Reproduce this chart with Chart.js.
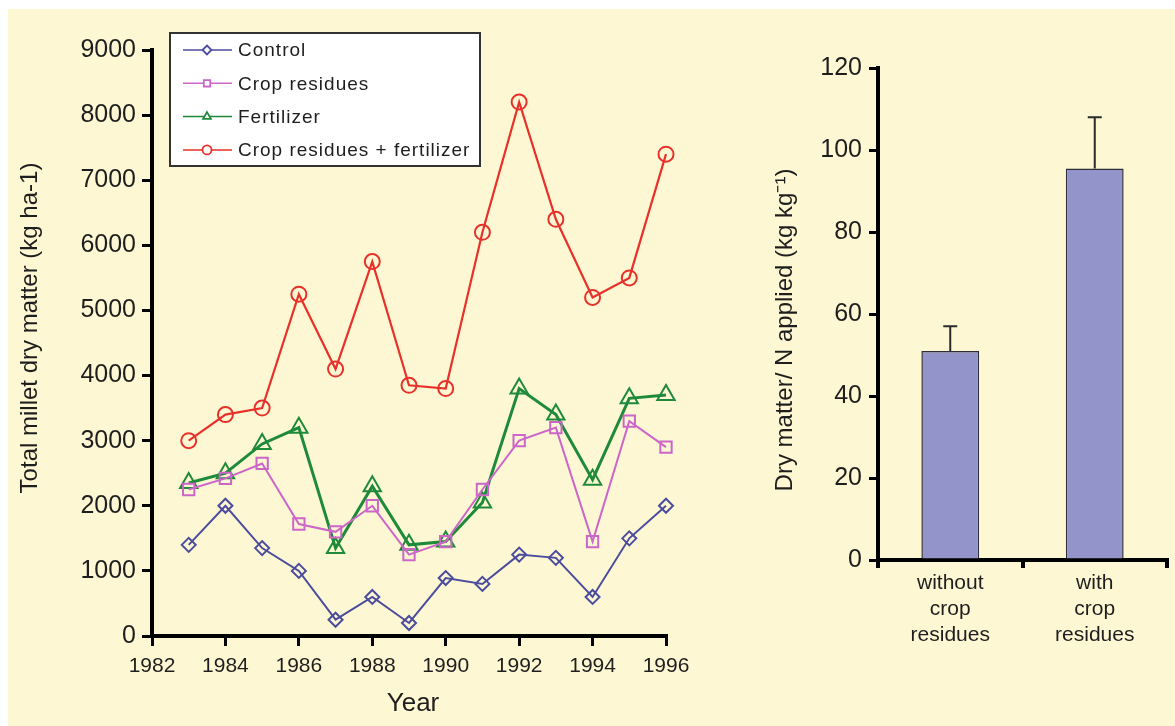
<!DOCTYPE html>
<html>
<head>
<meta charset="utf-8">
<script src="https://cdn.jsdelivr.net/npm/chart.js@4.4.1/dist/chart.umd.min.js"></script>
<style>
  html,body{margin:0;padding:0;background:#ffffff;width:1175px;height:726px;overflow:hidden;}
  #bg{position:absolute;left:8px;top:9px;width:1167px;height:717px;background:#FDF8D3;}
  canvas{position:absolute;top:0;}
  #c1{left:0;}
  #c2{left:720px;}
</style>
</head>
<body>
<div id="bg"></div>
<canvas id="c1" width="720" height="726"></canvas>
<canvas id="c2" width="455" height="726"></canvas>
<script>
// ---------- data ----------
const years = [1983,1984,1985,1986,1987,1988,1989,1990,1991,1992,1993,1994,1995,1996];
const control = [1400,2000,1350,1000,250,600,200,890,800,1250,1200,600,1500,2000];
const cropResidues = [2250,2420,2650,1720,1600,2000,1250,1450,2250,3000,3200,1450,3300,2900];
const fertilizer = [2350,2500,2950,3200,1350,2300,1400,1450,2050,3800,3400,2400,3650,3700];
const residuesPlusFertilizer = [3000,3400,3500,5250,4100,5750,3850,3800,6200,8200,6400,5200,5500,7400];
const seriesNames = ["Control","Crop residues","Fertilizer","Crop residues + fertilizer"];
const xTickRange = [1982,1996,2];
const yTickRange = [0,9000,1000];

const barCategories = [["without","crop","residues"],["with","crop","residues"]];
const barValues = [51,95.5];
const barErrors = [6,12.5];
const barYRange = [0,120,20];

const FONT = "'Liberation Sans', Arial, Helvetica, sans-serif";
const TXT = "#1e1e1e";

// text plugin (axis titles)
const textPlugin = {
  id:'texts',
  afterDraw(chart, args, opts){
    const ctx = chart.ctx;
    (opts.items||[]).forEach(t=>{
      ctx.save();
      ctx.translate(t.x,t.y);
      if(t.rot) ctx.rotate(t.rot);
      ctx.font = t.font;
      ctx.fillStyle = TXT;
      ctx.textAlign='center';
      ctx.textBaseline='middle';
      ctx.fillText(t.text,0,0);
      ctx.restore();
    });
  }
};

// legend box plugin drawn from dataset styles
const legendBox = {
  id:'legendBox',
  afterDraw(chart, args, opts){
    const ctx = chart.ctx;
    const b = opts.box;
    ctx.save();
    ctx.fillStyle='#ffffff';
    ctx.fillRect(b.x,b.y,b.w,b.h);
    ctx.lineWidth=2;
    ctx.strokeStyle='#333333';
    ctx.strokeRect(b.x,b.y,b.w,b.h);
    chart.data.datasets.forEach((ds,i)=>{
      const cy = b.y + opts.first + i*opts.step;
      ctx.strokeStyle = ds.borderColor;
      ctx.lineWidth = 1.5;
      ctx.beginPath();
      ctx.moveTo(b.x+13,cy); ctx.lineTo(b.x+62,cy); ctx.stroke();
      ctx.fillStyle = '#ffffff';
      ctx.strokeStyle = ds.borderColor;
      ctx.lineWidth = 1.8;
      Chart.helpers.drawPoint(ctx,{pointStyle:ds.pointStyle,radius:4.5,borderWidth:1.8,rotation:0},b.x+37,cy);
      ctx.fillStyle = TXT;
      ctx.font = "19px " + FONT;
      try{ ctx.letterSpacing = '1px'; }catch(e){}
      ctx.textAlign='left'; ctx.textBaseline='middle';
      ctx.fillText(ds.label,b.x+68,cy+1);
      try{ ctx.letterSpacing = '0px'; }catch(e){}
    });
    ctx.restore();
  }
};

function mk(name, vals, color, style, r, lw){
  return {
    label:name,
    data: years.map((y,i)=>({x:y,y:vals[i]})),
    borderColor:color,
    backgroundColor:'rgba(0,0,0,0)',
    pointBorderColor:color,
    pointBackgroundColor:'rgba(0,0,0,0)',
    pointStyle:style,
    pointRadius:r,
    pointBorderWidth:2,
    borderWidth:lw,
    tension:0,
    clip:false
  };
}

new Chart(document.getElementById('c1'),{
  type:'line',
  data:{datasets:[
    mk(seriesNames[0],control,'#4c4c9e','rectRot',7,2),
    mk(seriesNames[1],cropResidues,'#cc66c8','rect',8,2),
    mk(seriesNames[2],fertilizer,'#1f8a3a','triangle',10,3),
    mk(seriesNames[3],residuesPlusFertilizer,'#e8312a','circle',7.5,2.2)
  ]},
  options:{
    responsive:false, animation:false,
    layout:{padding:{top:50,right:54,left:0,bottom:0}},
    plugins:{
      legend:{display:false}, tooltip:{enabled:false},
      legendBox:{box:{x:170,y:33,w:310,h:133},first:17,step:33.3},
      texts:{items:[
        {text:'Total millet dry matter (kg ha-1)',x:30,y:328,rot:-Math.PI/2,font:"24px "+FONT},
        {text:'Year',x:413,y:704,font:"26px "+FONT}
      ]}
    },
    scales:{
      x:{type:'linear',min:xTickRange[0],max:xTickRange[1],
        afterFit(s){s.height=90;},
        ticks:{stepSize:xTickRange[2],callback:v=>String(v),color:TXT,font:{family:FONT,size:21},padding:8,maxRotation:0},
        grid:{drawOnChartArea:false,drawTicks:true,tickLength:10,color:'#000',lineWidth:3},
        border:{display:true,color:'#000',width:4}
      },
      y:{min:yTickRange[0],max:yTickRange[1],
        afterFit(s){s.width=152;},
        ticks:{stepSize:yTickRange[2],callback:v=>String(v),color:TXT,font:{family:FONT,size:25},padding:6},
        grid:{drawOnChartArea:false,drawTicks:true,tickLength:10,color:'#000',lineWidth:3},
        border:{display:true,color:'#000',width:4}
      }
    }
  },
  plugins:[textPlugin,legendBox]
});

// error bar plugin
const errPlugin = {
  id:'errBars',
  afterDatasetsDraw(chart, args, opts){
    const ctx = chart.ctx;
    const meta = chart.getDatasetMeta(0);
    const ys = chart.scales.y;
    ctx.save();
    ctx.strokeStyle='#2a2a2a';
    ctx.lineWidth=2;
    meta.data.forEach((bar,i)=>{
      const top = ys.getPixelForValue(barValues[i]+barErrors[i]);
      const base = ys.getPixelForValue(barValues[i]);
      ctx.beginPath();
      ctx.moveTo(bar.x,base); ctx.lineTo(bar.x,top);
      ctx.moveTo(bar.x-7,top); ctx.lineTo(bar.x+7,top);
      ctx.stroke();
    });
    ctx.restore();
  }
};

new Chart(document.getElementById('c2'),{
  type:'bar',
  data:{labels:barCategories,datasets:[{
    data:barValues,
    backgroundColor:'#9394c9',
    borderColor:'#2e2e3a',
    borderWidth:1.5,
    barPercentage:0.4,
    categoryPercentage:1
  }]},
  options:{
    responsive:false, animation:false,
    layout:{padding:{top:68,right:8,left:0,bottom:0}},
    plugins:{
      legend:{display:false}, tooltip:{enabled:false},
      texts:{items:[
        {text:'Dry matter/ N applied (kg kg\u207B\u00B9)',x:65,y:330,rot:-Math.PI/2,font:"24px "+FONT}
      ]}
    },
    scales:{
      x:{
        afterFit(s){s.height=166;},
        ticks:{color:TXT,font:{family:FONT,size:21,lineHeight:1.24},padding:2,maxRotation:0},
        grid:{offset:true,drawOnChartArea:false,drawTicks:true,tickLength:8,color:'#000',lineWidth:4},
        border:{display:true,color:'#000',width:4}
      },
      y:{min:barYRange[0],max:barYRange[1],
        afterFit(s){s.width=158;},
        ticks:{stepSize:barYRange[2],color:TXT,font:{family:FONT,size:25},padding:7},
        grid:{drawOnChartArea:false,drawTicks:true,tickLength:9,color:'#000',lineWidth:3},
        border:{display:true,color:'#000',width:4}
      }
    }
  },
  plugins:[textPlugin,errPlugin]
});
</script>
</body>
</html>
